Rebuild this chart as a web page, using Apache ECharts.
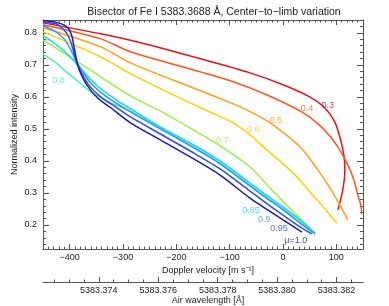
<!DOCTYPE html>
<html>
<head>
<meta charset="utf-8">
<script src="https://cdn.jsdelivr.net/npm/echarts@6/dist/echarts.min.js"></script>
<style>html,body{margin:0;padding:0;background:#fff;}#c{width:389px;height:306px;}</style>
</head>
<body>
<div id="c"></div>
<script>
// ---- data (Doppler velocity [m/s], normalized intensity) ----
const muLabels = ['0.3','0.4','0.5','0.6','0.7','0.8','0.85','0.9','0.95','μ=1.0'];

const vel_03 = [-450,-342,-267,-155,-62,0,50,78,97,108,114,116,112,103];
const int_03 = [0.831,0.797,0.769,0.719,0.675,0.638,0.600,0.566,0.522,0.466,0.419,0.372,0.309,0.247];

const vel_04 = [-450,-342,-286,-155,-93.5,-29.9,31.8,63.6,87.9,106.5,121.5,132.7,140.2,145.8,147.7];
const int_04 = [0.825,0.781,0.741,0.678,0.647,0.606,0.556,0.519,0.478,0.434,0.3875,0.341,0.294,0.2625,0.234];

const vel_05 = [-450,-342,-286,-155,-93.5,-61.7,-29.9,0,31.8,50.5,69.2,87.9,106.5,121.5];
const int_05 = [0.816,0.756,0.706,0.619,0.578,0.554,0.525,0.489,0.444,0.406,0.3625,0.316,0.2625,0.216];

const vel_06 = [-450,-342,-286,-155,-93.5,-61.7,-29.9,0,26.2,50.5,69.2,87.9,100.9];
const int_06 = [0.803,0.725,0.672,0.566,0.519,0.481,0.434,0.391,0.35,0.303,0.269,0.231,0.206];

const vel_07 = [-450,-368,-286,-224,-155,-118,-62,-19,26,56];
const int_07 = [0.778,0.691,0.603,0.55,0.484,0.447,0.381,0.306,0.231,0.178];

const vel_08 = [-450,-426,-404,-379,-361,-323,-286,-230,-174,-118,-62,-37,0,32,60];
const int_08 = [0.734,0.706,0.675,0.641,0.616,0.581,0.556,0.503,0.45,0.394,0.325,0.294,0.25,0.209,0.172];

const vel_085 = [-450,-430,-411,-394,-379,-348,-310,-286,-230,-174,-118,-62,-37,0,32,60];
const int_085 = [0.791,0.769,0.744,0.716,0.6875,0.634,0.5875,0.5625,0.506,0.456,0.4,0.331,0.3,0.256,0.216,0.175];

const vel_09 = [-450,-432,-421,-409,-398,-389,-379,-361,-333,-286,-230,-174,-118,-62,-37,0,32,60];
const int_09 = [0.822,0.809,0.797,0.778,0.747,0.716,0.6875,0.644,0.603,0.553,0.5,0.447,0.391,0.322,0.291,0.247,0.206,0.172];

const vel_095 = [-450,-426,-417,-406,-398,-392.5,-387,-379,-364.5,-342,-314,-286,-230,-174,-118,-62,-37,0,32,54];
const int_095 = [0.834,0.828,0.819,0.8,0.772,0.741,0.709,0.678,0.6375,0.6,0.569,0.5375,0.484,0.431,0.375,0.306,0.275,0.231,0.194,0.172];

const vel_10 = [-450,-426,-411,-402,-396,-392.5,-389,-385,-379,-368,-348,-323,-286,-230,-174,-118,-62,-37,0,35.5];
const int_10 = [0.8375,0.833,0.825,0.8125,0.791,0.7625,0.731,0.7,0.672,0.6375,0.597,0.566,0.519,0.466,0.4125,0.356,0.284,0.256,0.216,0.178];

// label anchor positions (data units)
const labelVel = [84,45,-13,-56,-114,-421,-60,-35,-7.5,24];
const labelInt = [0.574,0.5625,0.525,0.497,0.4625,0.65,0.244,0.216,0.1875,0.153];

// ticks
const velMajorTicks = [-400,-300,-200,-100,0,100];
const intMajorTicks = [0.2,0.3,0.4,0.5,0.6,0.7,0.8];
const wlMajorTicks = [5383.374,5383.376,5383.378,5383.380,5383.382];

const velMin = -450, velMax = 150, intMin = 0.125, intMax = 0.84;
const lambdaRef = 5383.3802, cLight = 299792458;

// ---- styles ----
const colors = ['#e0141a','#ff561e','#ffa01c','#ffd000','#9cef48','#52f0b4','#14d6f2','#2c96ff','#2a4ef2','#1a1ab8'];
const FONT = 'Liberation Sans, Arial, Helvetica, sans-serif';
const axisColor = '#555';
const textColor = '#222';

const velSets = [vel_03,vel_04,vel_05,vel_06,vel_07,vel_08,vel_085,vel_09,vel_095,vel_10];
const intSets = [int_03,int_04,int_05,int_06,int_07,int_08,int_085,int_09,int_095,int_10];

const wlMin = lambdaRef * (1 + velMin / cLight);
const wlMax = lambdaRef * (1 + velMax / cLight);

function rangeTicks(a, b, step) {
  const out = [];
  const k0 = Math.ceil(a / step - 1e-9), k1 = Math.floor(b / step + 1e-9);
  for (let k = k0; k <= k1; k++) out.push(+(k * step).toFixed(6));
  return out;
}
const intMinorTicks = rangeTicks(intMin, intMax, 0.02);
const wlMinorTicks = (function(){
  const base = 5383;
  return rangeTicks(wlMin - base, wlMax - base, 0.0005).map(v => +(base + v).toFixed(5));
})();

const minus = s => String(s).replace('-', '\u2212');

const series = velSets.map((vs, i) => ({
  type: 'line',
  name: muLabels[i],
  data: vs.map((v, j) => [v, intSets[i][j]]),
  showSymbol: false,
  smooth: 0.3,
  lineStyle: { color: colors[i], width: 1.5 },
  itemStyle: { color: colors[i] },
  z: 2 + i,
  silent: true,
  clip: true
}));

series.push({
  type: 'scatter',
  symbolSize: 1,
  itemStyle: { color: 'rgba(0,0,0,0)' },
  silent: true,
  z: 20,
  data: labelVel.map((v, i) => ({
    value: [v, labelInt[i]],
    label: { show: true, position: 'inside', formatter: muLabels[i], color: colors[i], fontSize: 9, fontFamily: FONT }
  }))
});

function tickAxis(extra) {
  const base = {
    type: 'value',
    splitLine: { show: false },
    axisLine: { show: false, onZero: false },
    axisLabel: { show: false },
    nameMoveOverlap: false,
    silent: true
  };
  const o = Object.assign(base, extra);
  o.axisLine = Object.assign({}, o.axisLine, { onZero: false });
  return o;
}

const option = {
  animation: false,
  backgroundColor: '#fff',
  textStyle: { fontFamily: FONT },
  title: {
    text: 'Bisector of Fe I 5383.3688 Å, Center\u2212to\u2212limb variation',
    left: 209, top: 2, textAlign: 'center',
    textStyle: { fontSize: 10.5, fontWeight: 'normal', color: textColor, fontFamily: FONT }
  },
  grid: { left: 43, right: 26, top: 20, bottom: 57, outerBoundsMode: 'none', containLabel: false },
  xAxis: [
    tickAxis({
      min: velMin, max: velMax, position: 'bottom',
      axisLine: { show: true, lineStyle: { color: axisColor, width: 1 } },
      axisTick: { show: true, inside: true, length: 5, customValues: velMajorTicks, lineStyle: { color: axisColor } },
      axisLabel: { show: true, customValues: velMajorTicks, margin: 4, fontSize: 9, color: textColor, fontFamily: FONT, formatter: v => minus(v) },
      name: 'Doppler velocity [m s\u207B\u00B9]', nameLocation: 'middle', nameGap: 17,
      nameTextStyle: { fontSize: 9, color: textColor, fontFamily: FONT, padding: [0,0,0,10] }
    }),
    tickAxis({
      min: velMin, max: velMax, position: 'bottom', interval: 10,
      axisTick: { show: true, inside: true, length: 2.5, lineStyle: { color: axisColor } }
    }),
    tickAxis({
      min: velMin, max: velMax, position: 'top',
      axisLine: { show: true, lineStyle: { color: axisColor, width: 1 } },
      axisTick: { show: true, inside: true, length: 5, customValues: velMajorTicks, lineStyle: { color: axisColor } }
    }),
    tickAxis({
      min: velMin, max: velMax, position: 'top', interval: 10,
      axisTick: { show: true, inside: true, length: 2.5, lineStyle: { color: axisColor } }
    }),
    tickAxis({
      min: wlMin, max: wlMax, position: 'bottom', offset: 33,
      axisLine: { show: true, lineStyle: { color: axisColor, width: 1 } },
      axisTick: { show: true, inside: true, length: 5, customValues: wlMajorTicks, lineStyle: { color: axisColor } },
      axisLabel: { show: true, customValues: wlMajorTicks, margin: 4, fontSize: 9, color: textColor, fontFamily: FONT, formatter: v => v.toFixed(3) },
      name: 'Air wavelength [Å]', nameLocation: 'middle', nameGap: 14,
      nameTextStyle: { fontSize: 9, color: textColor, fontFamily: FONT, padding: [0,0,0,10] }
    }),
    tickAxis({
      min: wlMin, max: wlMax, position: 'bottom', offset: 33,
      axisTick: { show: true, inside: true, length: 2.5, customValues: wlMinorTicks, lineStyle: { color: axisColor } }
    })
  ],
  yAxis: [
    tickAxis({
      min: intMin, max: intMax, position: 'left',
      axisLine: { show: true, lineStyle: { color: axisColor, width: 1 } },
      axisTick: { show: true, inside: true, length: 6, customValues: intMajorTicks, lineStyle: { color: axisColor } },
      axisLabel: { show: true, customValues: intMajorTicks, margin: 6, fontSize: 9, color: textColor, fontFamily: FONT, formatter: v => v.toFixed(1) },
      name: 'Normalized intensity', nameLocation: 'middle', nameGap: 24, nameRotate: 90,
      nameTextStyle: { fontSize: 9, color: textColor, fontFamily: FONT }
    }),
    tickAxis({
      min: intMin, max: intMax, position: 'left',
      axisTick: { show: true, inside: true, length: 3, customValues: intMinorTicks, lineStyle: { color: axisColor } }
    }),
    tickAxis({
      min: intMin, max: intMax, position: 'right',
      axisLine: { show: true, lineStyle: { color: axisColor, width: 1 } },
      axisTick: { show: true, inside: true, length: 6, customValues: intMajorTicks, lineStyle: { color: axisColor } }
    }),
    tickAxis({
      min: intMin, max: intMax, position: 'right',
      axisTick: { show: true, inside: true, length: 3, customValues: intMinorTicks, lineStyle: { color: axisColor } }
    })
  ],
  series: series
};

const chart = echarts.init(document.getElementById('c'), null, { renderer: 'canvas' });
chart.setOption(option);
</script>
</body>
</html>
